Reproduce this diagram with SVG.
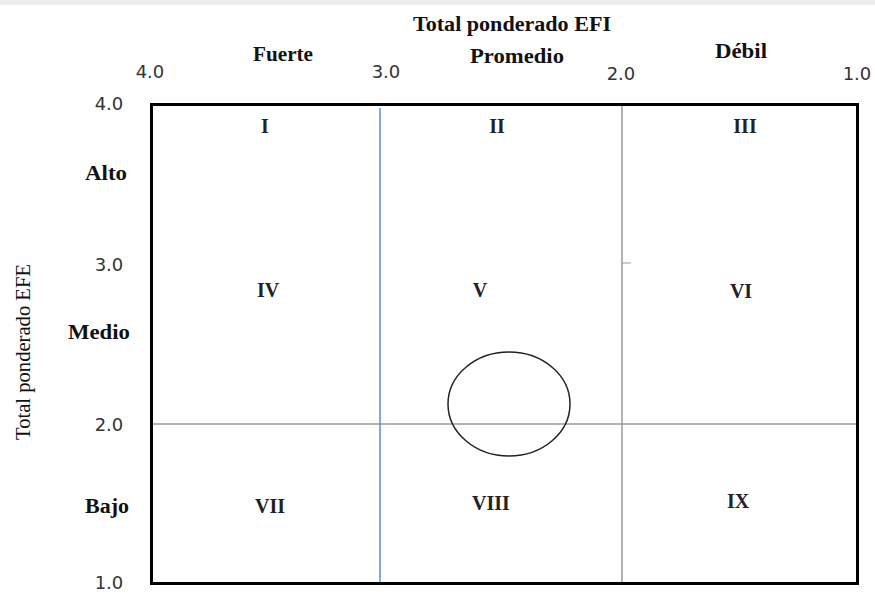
<svg xmlns="http://www.w3.org/2000/svg" width="875" height="594" viewBox="0 0 875 594">
  <style>
    .lbl { font-family: "Liberation Serif", "Times New Roman", serif; font-weight: bold; font-size: 20px; fill: #111; text-anchor: middle; }
    .num { font-family: "DejaVu Sans", "Liberation Sans", sans-serif; font-size: 18px; fill: #333; text-anchor: middle; }
    .side { font-family: "Liberation Serif", "Times New Roman", serif; font-weight: bold; font-size: 20px; fill: #111; text-anchor: end; }
    .axis { font-family: "Liberation Serif", "Times New Roman", serif; font-size: 20px; fill: #111; text-anchor: middle; }
    .cell { font-family: "Liberation Serif", "Times New Roman", serif; font-weight: bold; font-size: 20px; fill: #222; text-anchor: middle; }
  </style>
  <rect width="875" height="594" fill="#fff"/>
  <rect x="0" y="0" width="875" height="5" fill="#ececec"/>

  <!-- axis titles and scale -->
  <g id="axis-x">
    <text class="lbl" x="512" y="31" textLength="198" lengthAdjust="spacingAndGlyphs">Total ponderado EFI</text>
    <text class="lbl" x="283" y="61" textLength="60" lengthAdjust="spacingAndGlyphs">Fuerte</text>
    <text class="lbl" x="517" y="63" textLength="94" lengthAdjust="spacingAndGlyphs">Promedio</text>
    <text class="lbl" x="741" y="58" textLength="52" lengthAdjust="spacingAndGlyphs">Débil</text>
    <text class="num" x="150" y="78">4.0</text>
    <text class="num" x="386" y="78">3.0</text>
    <text class="num" x="621" y="80">2.0</text>
    <text class="num" x="857" y="80">1.0</text>
  </g>
  <g id="axis-y">
    <text class="axis" transform="translate(30,352) rotate(-90)" textLength="176" lengthAdjust="spacingAndGlyphs">Total ponderado EFE</text>
    <text class="num" x="109" y="110">4.0</text>
    <text class="num" x="109" y="271">3.0</text>
    <text class="num" x="109" y="431">2.0</text>
    <text class="num" x="109" y="589">1.0</text>
    <text class="side" x="127" y="180" textLength="42" lengthAdjust="spacingAndGlyphs">Alto</text>
    <text class="side" x="130" y="339" textLength="62" lengthAdjust="spacingAndGlyphs">Medio</text>
    <text class="side" x="129" y="513" textLength="44" lengthAdjust="spacingAndGlyphs">Bajo</text>
  </g>

  <!-- grid lines -->
  <g id="connectors" fill="none">
    <line x1="152" y1="424" x2="858" y2="424" stroke="#999" stroke-width="1.5"/>
    <line x1="380" y1="108" x2="380" y2="582" stroke="#5b8fd0" stroke-width="1.5"/>
    <line x1="622" y1="104" x2="622" y2="585" stroke="#999" stroke-width="1.5"/>
    <line x1="622" y1="263" x2="631" y2="263" stroke="#999" stroke-width="1"/>
  </g>

  <g id="frame">
    <rect x="151.5" y="104.5" width="706" height="479" fill="none" stroke="#000" stroke-width="3"/>
  </g>

  <!-- quadrant labels -->
  <g id="cell-I"><text class="cell" x="265" y="133">I</text></g>
  <g id="cell-II"><text class="cell" x="497" y="133">II</text></g>
  <g id="cell-III"><text class="cell" x="745" y="133">III</text></g>
  <g id="cell-IV"><text class="cell" x="268" y="297">IV</text></g>
  <g id="cell-V"><text class="cell" x="480" y="297">V</text></g>
  <g id="cell-VI"><text class="cell" x="741" y="298">VI</text></g>
  <g id="cell-VII"><text class="cell" x="270" y="513">VII</text></g>
  <g id="cell-VIII"><text class="cell" x="491" y="510">VIII</text></g>
  <g id="cell-IX"><text class="cell" x="738" y="508">IX</text></g>

  <g id="position">
    <ellipse cx="509" cy="404" rx="61" ry="52" fill="none" stroke="#222" stroke-width="1.5"/>
  </g>
</svg>
